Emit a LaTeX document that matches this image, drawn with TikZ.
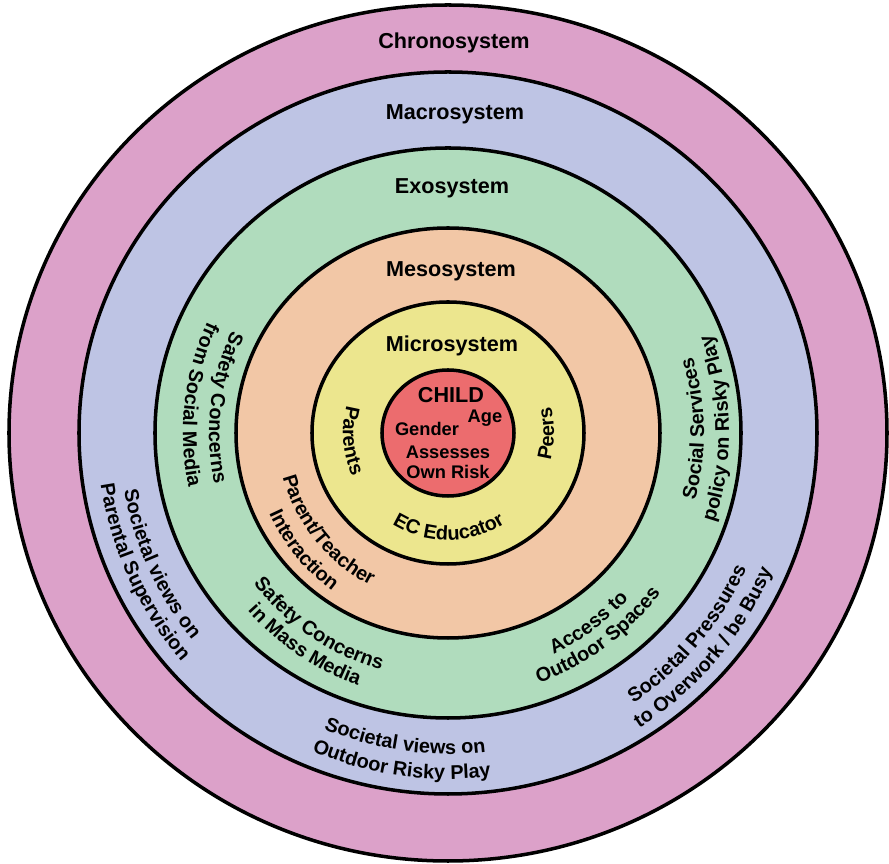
\documentclass[tikz,border=0pt]{standalone}
\usepackage{fontspec}
\setmainfont{Liberation Sans}
\usetikzlibrary{decorations.text}
\definecolor{chrono}{RGB}{220,161,201}
\definecolor{macro}{RGB}{190,196,228}
\definecolor{exo}{RGB}{176,220,189}
\definecolor{meso}{RGB}{242,199,166}
\definecolor{micro}{RGB}{236,230,142}
\definecolor{child}{RGB}{236,108,110}

\newcommand{\arcfont}{\fontsize{11.3}{13}\selectfont\bfseries}
% curved label: mid angle, half span, baseline radius, text
\newcommand{\ringlabel}[4]{%
  \path[arclbl={#4}] (#1-#2:#3) arc[start angle=#1-#2, end angle=#1+#2, radius=#3];}

\begin{document}
\begin{tikzpicture}[
        x=0.02cm, y=0.02cm,
        ring/.style={draw=black, line width=2pt},
        ttl/.style={inner sep=0pt, font=\fontsize{12.3}{14}\selectfont\bfseries},
        kid/.style={inner sep=0pt, font=\fontsize{10.4}{12}\selectfont\bfseries},
        arclbl/.style={decorate, decoration={text along path, text align=center, text={|\arcfont|#1}}},
    ]
        \useasboundingbox (-448,-431) rectangle (441,433);

        % Nested system rings (outermost first)
        \draw[ring, fill=chrono] (0,0) ellipse [x radius=439, y radius=428];
        \draw[ring, fill=macro] (0,0) ellipse [x radius=369, y radius=361];
        \draw[ring, fill=exo] (0,0) ellipse [x radius=293, y radius=285];
        \draw[ring, fill=meso] (0,0) ellipse [x radius=212, y radius=205];
        \draw[ring, fill=micro] (0,0) ellipse [x radius=136, y radius=131];
        \draw[ring, fill=child] (0,0) ellipse [x radius=66, y radius=63];

        % System names (top)
        \node[ttl] (CHRONO) at (6, 390) {Chronosystem};
        \node[ttl] (MACRO) at (7, 319) {Macrosystem};
        \node[ttl] (EXO) at (4, 245) {Exosystem};
        \node[ttl] (MESO) at (3, 162) {Mesosystem};
        \node[ttl] (MICRO) at (4, 87) {Microsystem};

        % Child core
        \node[ttl] (CHILD) at (3, 38) {CHILD};
        \node[kid] (AGE) at (37, 15) {Age};
        \node[kid] (GENDER) at (-21, 4) {Gender};
        \node[kid] (ASSESS) at (0, -19) {Assesses};
        \node[kid] (OWNRISK) at (0, -39) {Own Risk};

        % Microsystem labels
        \ringlabel{184.5}{80}{105}{Parents}
        \ringlabel{359.5}{80}{106}{Peers}
        \ringlabel{270.5}{80}{107}{EC Educator}

        % Mesosystem labels
        \ringlabel{219}{60}{171}{Parent/Teacher}
        \ringlabel{219}{60}{196}{Interaction}

        % Exosystem labels
        \ringlabel{173.5}{60}{239}{Safety Concerns}
        \ringlabel{173.5}{60}{265}{from Social Media}
        \ringlabel{236}{60}{246}{Safety Concerns}
        \ringlabel{236}{60}{268}{in Mass Media}
        \ringlabel{306.5}{60}{245}{Access to}
        \ringlabel{306.5}{60}{266}{Outdoor Spaces}
        \ringlabel{1}{60}{256}{Social Services}
        \ringlabel{1}{60}{281}{policy on Risky Play}

        % Macrosystem labels
        \ringlabel{204.5}{50}{329}{Societal views on}
        \ringlabel{204.5}{50}{351}{Parental Supervision}
        \ringlabel{262}{50}{321}{Societal views on}
        \ringlabel{262}{50}{346}{Outdoor Risky Play}
        \ringlabel{320}{50}{328}{Societal Pressures}
        \ringlabel{320}{50}{352}{to Overwork / be Busy}
    \end{tikzpicture}
\end{document}
